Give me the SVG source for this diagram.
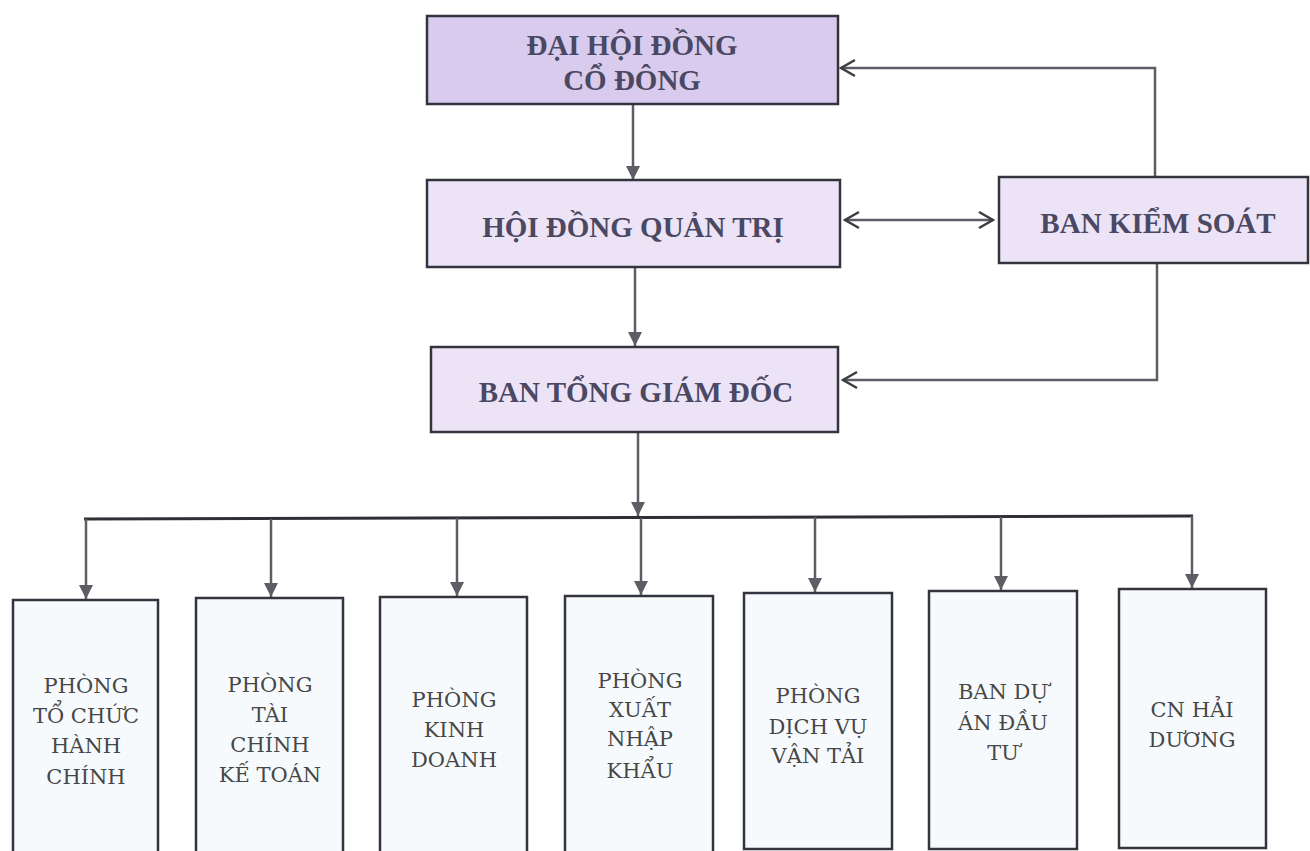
<svg xmlns="http://www.w3.org/2000/svg" width="1310" height="851" viewBox="0 0 1310 851">
<defs>
<style>
.bg{fill:#ffffff}
.box{stroke:#34343f;stroke-width:2.5}
.top{fill:#d9cbed}
.mid{fill:#ede3f7}
.dept{fill:#f6fafd}
.ht{font-family:"Liberation Serif","Times New Roman",serif;font-weight:bold;font-size:29px;fill:#4a4862;text-anchor:middle}
.dt{font-family:"DejaVu Serif","Liberation Serif",serif;font-size:21px;fill:#474747;text-anchor:middle}
.ln{fill:none;stroke:#5d5d66;stroke-width:2.5}
.bus{fill:none;stroke:#2f2f35;stroke-width:3}
</style>
<marker id="tri" markerUnits="userSpaceOnUse" markerWidth="16" markerHeight="16" viewBox="0 0 16 16" refX="14" refY="8" orient="auto">
<path d="M0,1 L14,8 L0,15 Z" fill="#5d5d66"/>
</marker>
<marker id="chev" markerUnits="userSpaceOnUse" markerWidth="18" markerHeight="20" viewBox="0 0 18 20" refX="16" refY="10" orient="auto-start-reverse">
<path d="M2,2 L16,10 L2,18" fill="none" stroke="#3c3c44" stroke-width="2.5"/>
</marker>
</defs>
<rect class="bg" x="0" y="0" width="1310" height="851"/>

<g id="connectors">
<line class="ln" x1="633" y1="104" x2="633" y2="180" marker-end="url(#tri)"/>
<line class="ln" x1="635" y1="267" x2="635" y2="346" marker-end="url(#tri)"/>
<line class="ln" x1="845" y1="220" x2="993" y2="220" marker-start="url(#chev)" marker-end="url(#chev)"/>
<polyline class="ln" points="1155,177 1155,68 841,68" marker-end="url(#chev)"/>
<polyline class="ln" points="1157,263 1157,380 843,380" marker-end="url(#chev)"/>
<line class="ln" x1="638" y1="432" x2="638" y2="516" marker-end="url(#tri)"/>
<line class="bus" x1="84" y1="519" x2="1193" y2="516"/>
<line class="ln" x1="86" y1="519" x2="86" y2="599" marker-end="url(#tri)"/>
<line class="ln" x1="271" y1="519" x2="271" y2="597" marker-end="url(#tri)"/>
<line class="ln" x1="457" y1="518" x2="457" y2="596" marker-end="url(#tri)"/>
<line class="ln" x1="641" y1="518" x2="641" y2="595" marker-end="url(#tri)"/>
<line class="ln" x1="815" y1="517" x2="815" y2="592" marker-end="url(#tri)"/>
<line class="ln" x1="1001" y1="517" x2="1001" y2="590" marker-end="url(#tri)"/>
<line class="ln" x1="1192" y1="516" x2="1192" y2="588" marker-end="url(#tri)"/>
</g>

<g id="dhdcd">
<rect class="box top" x="427" y="16" width="411" height="88"/>
<text class="ht" x="632" y="55">ĐẠI HỘI ĐỒNG</text>
<text class="ht" x="632" y="90">CỔ ĐÔNG</text>
</g>

<g id="hdqt">
<rect class="box mid" x="427" y="180" width="413" height="87"/>
<text class="ht" x="633" y="237">HỘI ĐỒNG QUẢN TRỊ</text>
</g>

<g id="bks">
<rect class="box mid" x="999" y="177" width="309" height="86"/>
<text class="ht" x="1158" y="233">BAN KIỂM SOÁT</text>
</g>

<g id="btgd">
<rect class="box mid" x="431" y="347" width="407" height="85"/>
<text class="ht" x="636" y="402">BAN TỔNG GIÁM ĐỐC</text>
</g>

<g id="p-tchc">
<rect class="box dept" x="13" y="600" width="145" height="254"/>
<text class="dt" x="86" y="693">PHÒNG</text>
<text class="dt" x="86" y="723">TỔ CHỨC</text>
<text class="dt" x="86" y="753">HÀNH</text>
<text class="dt" x="86" y="784">CHÍNH</text>
</g>

<g id="p-tckt">
<rect class="box dept" x="196" y="598" width="147" height="256"/>
<text class="dt" x="270" y="692">PHÒNG</text>
<text class="dt" x="270" y="722">TÀI</text>
<text class="dt" x="270" y="752">CHÍNH</text>
<text class="dt" x="270" y="782">KẾ TOÁN</text>
</g>

<g id="p-kd">
<rect class="box dept" x="380" y="597" width="147" height="257"/>
<text class="dt" x="454" y="707">PHÒNG</text>
<text class="dt" x="454" y="737">KINH</text>
<text class="dt" x="454" y="767">DOANH</text>
</g>

<g id="p-xnk">
<rect class="box dept" x="565" y="596" width="148" height="258"/>
<text class="dt" x="640" y="688">PHÒNG</text>
<text class="dt" x="640" y="717">XUẤT</text>
<text class="dt" x="640" y="746">NHẬP</text>
<text class="dt" x="640" y="778">KHẨU</text>
</g>

<g id="p-dvvt">
<rect class="box dept" x="744" y="593" width="148" height="256"/>
<text class="dt" x="818" y="703">PHÒNG</text>
<text class="dt" x="818" y="734">DỊCH VỤ</text>
<text class="dt" x="818" y="763">VẬN TẢI</text>
</g>

<g id="b-dadt">
<rect class="box dept" x="929" y="591" width="148" height="258"/>
<text class="dt" x="1003" y="699">BAN DỰ</text>
<text class="dt" x="1003" y="730">ÁN ĐẦU</text>
<text class="dt" x="1003" y="760">TƯ</text>
</g>

<g id="cn-hd">
<rect class="box dept" x="1119" y="589" width="147" height="259"/>
<text class="dt" x="1192" y="717">CN HẢI</text>
<text class="dt" x="1192" y="747">DƯƠNG</text>
</g>
</svg>
